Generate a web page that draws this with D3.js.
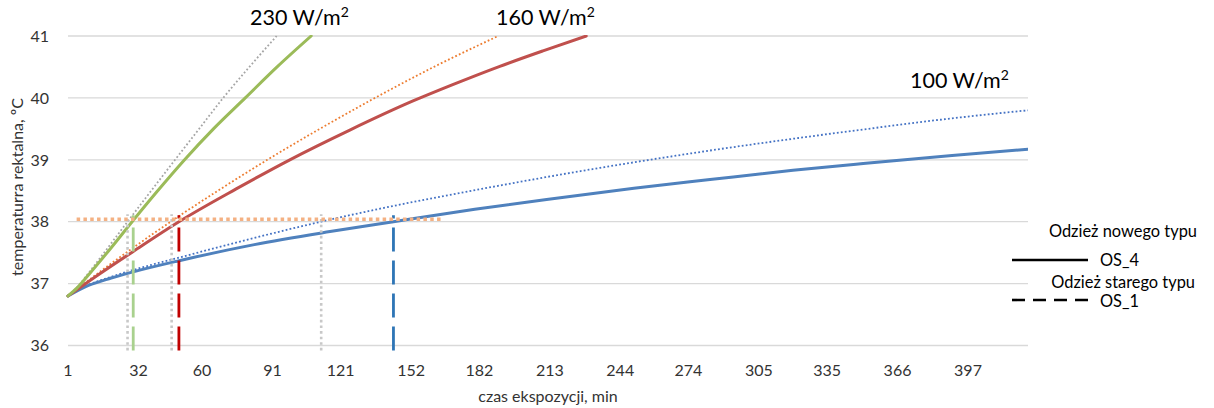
<!DOCTYPE html>
<html><head><meta charset="utf-8">
<script src="https://cdn.jsdelivr.net/npm/d3@7"></script>
<style>
body{margin:0;background:#fff;}
svg text{font-family:Lato,"Open Sans",sans-serif;}
</style></head>
<body><svg id="c" width="1214" height="408"></svg>
<script>
// ---- data ----
const xTicks = [1, 32, 60, 91, 121, 152, 182, 213, 244, 274, 305, 335, 366, 397];
const yTicks = [36, 37, 38, 39, 40, 41];

// OS_4 (solid)
const t230new = [1, 5, 10, 20, 29.2, 40, 52, 65, 79, 93, 108];
const v230new = [36.8, 36.93, 37.14, 37.58, 38.0, 38.48, 38.99, 39.5, 40.0, 40.5, 41.0];
const t160new = [1, 15, 29.7, 49.8, 75, 98.6, 125, 152.8, 170, 191, 210, 229];
const v160new = [36.8, 37.16, 37.52, 38.0, 38.53, 39.0, 39.48, 39.95, 40.21, 40.51, 40.76, 41.0];
const t100new = [1, 10, 20, 29.7, 49.9, 83, 116.3, 144.2, 180, 211.6, 250, 283.5, 320, 350.9, 390, 423.4];
const v100new = [36.8, 36.97, 37.09, 37.19, 37.37, 37.63, 37.84, 38.0, 38.2, 38.36, 38.54, 38.68, 38.83, 38.94, 39.07, 39.17];

// OS_1 (dotted)
const t230old = [1, 5, 10, 20, 27.2, 37.6, 48.1, 58.7, 69.3, 80.8, 92.8];
const v230old = [36.8, 36.94, 37.17, 37.65, 38.0, 38.5, 39.0, 39.5, 40.0, 40.5, 41.0];
const t160old = [1, 15, 29.7, 46.6, 67.8, 88.7, 111.8, 134.6, 162.5, 190.3];
const v160old = [36.8, 37.19, 37.58, 38.01, 38.52, 39.0, 39.5, 39.97, 40.51, 41.0];
const t100old = [1, 10, 20, 29.7, 49.9, 80, 112.3, 138.3, 183, 235.1, 253.5, 283.5, 320, 350.9, 390, 423.4];
const v100old = [36.8, 36.98, 37.11, 37.22, 37.42, 37.71, 38.0, 38.21, 38.53, 38.87, 38.98, 39.15, 39.34, 39.49, 39.67, 39.8];

// threshold and crossing times
const threshold = 38.04;
const thresholdSpan = [4.8, 166];
const crossNew = [29.7, 49.8, 144.2];   // OS_4 reaching 38 °C
const crossOld = [27.2, 46.6, 112.4];   // OS_1 reaching 38 °C

const powerLabels = ["230 W/m", "160 W/m", "100 W/m"];

// ---- chart ----
const svg = d3.select("#c");
const x = d3.scaleLinear().domain([1, 423.4]).range([68, 1028]);
const y = d3.scaleLinear().domain([36, 41]).range([345.5, 36]);

// grid
svg.append("g").selectAll("line").data(yTicks).join("line")
  .attr("x1", x(1)).attr("x2", x(423.4))
  .attr("y1", d => y(d)).attr("y2", d => y(d))
  .attr("stroke", "#d9d9d9").attr("stroke-width", 1.3);

// y tick labels
svg.append("g").selectAll("text").data(yTicks).join("text")
  .attr("x", 49).attr("y", d => y(d)).attr("dy", "0.36em")
  .attr("text-anchor", "end").attr("font-size", 16).attr("fill", "#333")
  .text(d => d);

// x tick labels
svg.append("g").selectAll("text").data(xTicks).join("text")
  .attr("x", d => x(d)).attr("y", 376)
  .attr("text-anchor", "middle").attr("font-size", 16).attr("fill", "#333")
  .text(d => d);

// axis titles
svg.append("text").attr("x", 548).attr("y", 402).attr("text-anchor", "middle")
  .attr("font-size", 16).attr("fill", "#333").text("czas ekspozycji, min");
svg.append("text").attr("transform", "translate(23,187) rotate(-90)")
  .attr("text-anchor", "middle").attr("font-size", 16).attr("fill", "#333")
  .text("temperaturra rektalna, ºC");

svg.append("clipPath").attr("id", "pa").append("rect")
  .attr("x", x(1) - 2).attr("y", y(41) - 1).attr("width", x(423.4) - x(1) + 2).attr("height", y(36) - y(41) + 2);

const line = d3.line().x(d => x(d[0])).y(d => y(d[1])).curve(d3.curveMonotoneX);
const zip = (t, v) => t.map((d, i) => [d, v[i]]);

const g = svg.append("g").attr("clip-path", "url(#pa)");

// vertical markers (OS_1 dotted grey, OS_4 dashed colour)
const vTop = 38.12, vBottom = 35.92;
svg.append("g").selectAll("line").data(crossOld).join("line")
  .attr("x1", d => x(d)).attr("x2", d => x(d))
  .attr("y1", y(vBottom)).attr("y2", y(vTop))
  .attr("stroke", "#c8c8c8").attr("stroke-width", 2.6).attr("stroke-dasharray", "2.6,3");
const dashCols = ["#a9d18e", "#c00000", "#2e75b6"];
svg.append("g").selectAll("line").data(crossNew).join("line")
  .attr("x1", d => x(d)).attr("x2", d => x(d))
  .attr("y1", y(vBottom)).attr("y2", y(vTop) + 1)
  .attr("stroke", (d, i) => dashCols[i]).attr("stroke-width", 2.8).attr("stroke-dasharray", "24,9");

// dotted OS_1 curves
const oldSeries = [[t230old, v230old, "#a5a5a5"], [t160old, v160old, "#ed7d31"], [t100old, v100old, "#4472c4"]];
g.selectAll("path.old").data(oldSeries).join("path").attr("class", "old")
  .attr("d", d => line(zip(d[0], d[1])))
  .attr("fill", "none").attr("stroke", d => d[2]).attr("stroke-width", 1.8).attr("stroke-dasharray", "1.8,2.2");

// threshold line
svg.append("line").attr("x1", x(thresholdSpan[0])).attr("x2", x(thresholdSpan[1]))
  .attr("y1", y(threshold)).attr("y2", y(threshold))
  .attr("stroke", "#f4b183").attr("stroke-width", 3.5).attr("stroke-dasharray", "3.5,3.3");

// solid OS_4 curves
const newSeries = [[t100new, v100new, "#4f81bd"], [t160new, v160new, "#c0504d"], [t230new, v230new, "#9bbb59"]];
g.selectAll("path.new").data(newSeries).join("path").attr("class", "new")
  .attr("d", d => line(zip(d[0], d[1])))
  .attr("fill", "none").attr("stroke", d => d[2]).attr("stroke-width", 3).attr("stroke-linecap", "round");

// power labels
const labPos = [[250, 25], [496, 25], [910, 88]];
powerLabels.forEach((s, i) => {
  const t = svg.append("text").attr("x", labPos[i][0]).attr("y", labPos[i][1])
    .attr("font-size", 21.5).attr("fill", "#000");
  t.append("tspan").text(s);
  t.append("tspan").attr("font-size", 14).attr("dy", -8).text("2");
});

// legend
const lg = svg.append("g");
lg.append("text").attr("x", 1197).attr("y", 237).attr("text-anchor", "end").attr("font-size", 16.4).attr("fill", "#000").text("Odzież nowego typu");
lg.append("line").attr("x1", 1012).attr("x2", 1088).attr("y1", 260).attr("y2", 260).attr("stroke", "#000").attr("stroke-width", 2.6);
lg.append("text").attr("x", 1100).attr("y", 266).attr("font-size", 16.4).attr("fill", "#000").text("OS_4");
lg.append("text").attr("x", 1195).attr("y", 288).attr("text-anchor", "end").attr("font-size", 16.4).attr("fill", "#000").text("Odzież starego typu");
lg.append("line").attr("x1", 1012).attr("x2", 1088).attr("y1", 300).attr("y2", 300).attr("stroke", "#000").attr("stroke-width", 2.6).attr("stroke-dasharray", "13,8");
lg.append("text").attr("x", 1100).attr("y", 307).attr("font-size", 16.4).attr("fill", "#000").text("OS_1");
</script></body></html>
